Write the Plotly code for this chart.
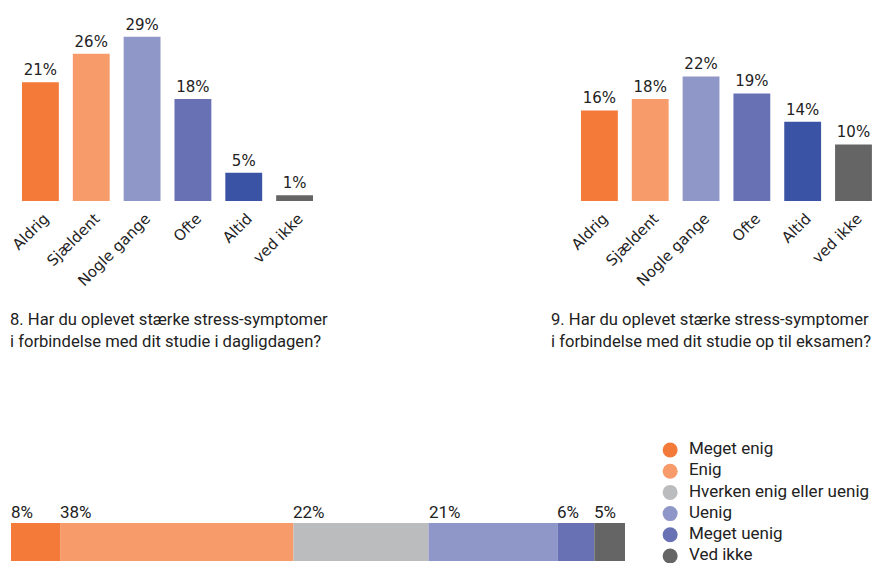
import plotly.graph_objects as go

W, H = 873, 563

categories = ["Aldrig", "Sjældent", "Nogle gange", "Ofte", "Altid", "ved ikke"]
values_q8 = [21, 26, 29, 18, 5, 1]
values_q9 = [16, 18, 22, 19, 14, 10]
bar_colors = ["#F47A3A", "#F89B6B", "#8F96C8", "#6871B4", "#3A53A4", "#656566"]

title_q8 = "8. Har du oplevet stærke stress-symptomer<br>i forbindelse med dit studie i dagligdagen?"
title_q9 = "9. Har du oplevet stærke stress-symptomer<br>i forbindelse med dit studie op til eksamen?"

stack_labels = ["Meget enig", "Enig", "Hverken enig eller uenig", "Uenig", "Meget uenig", "Ved ikke"]
stack_values = [8, 38, 22, 21, 6, 5]
stack_colors = ["#F47A3A", "#F89B6B", "#BBBCBE", "#8F96C8", "#6871B4", "#656566"]

num_font = dict(family="DejaVu Sans", size=15, color="#222222")
cond_font = "Roboto, sans-serif"

fig = go.Figure()

for vals, xa, ya in [(values_q8, "x", "y"), (values_q9, "x2", "y2")]:
    fig.add_trace(go.Bar(
        x=categories, y=vals, marker=dict(color=bar_colors, line=dict(width=0)),
        text=[f"{v}%" for v in vals], textposition="outside", cliponaxis=False,
        textfont=num_font, xaxis=xa, yaxis=ya, showlegend=False, hoverinfo="skip",
    ))

# stacked horizontal bar
for lab, val, col in zip(stack_labels, stack_values, stack_colors):
    fig.add_trace(go.Bar(
        x=[val], y=["q"], orientation="h", marker=dict(color=col, line=dict(width=0)),
        xaxis="x3", yaxis="y3", showlegend=False, hoverinfo="skip", name=lab,
    ))

# legend drawn as a scatter of circles with labels
fig.add_trace(go.Scatter(
    x=[0] * len(stack_labels), y=stack_labels, mode="markers+text",
    text=["  " + s for s in stack_labels], textposition="middle right",
    textfont=dict(family=cond_font, size=17, color="#222222"),
    marker=dict(symbol="circle", size=15, color=stack_colors, line=dict(width=0)),
    xaxis="x4", yaxis="y4", showlegend=False, hoverinfo="skip", cliponaxis=False,
))

base_y = (H - 201) / H
px_per = 5.66
yrange_top = 201 / px_per
bar_frac = 1 - 0.275

annotations = []
cum = 0
for val in stack_values:
    annotations.append(dict(
        x=cum, y=(H - 512) / H, xref="x3", yref="paper", text=f"{val}%",
        showarrow=False, xanchor="left", yanchor="middle", xshift=-2,
        font=dict(family=cond_font, size=17, color="#222222"),
    ))
    cum += val

for txt, x0 in [(title_q8, 10), (title_q9, 551)]:
    annotations.append(dict(
        x=x0 / W, y=(H - 308) / H, xref="paper", yref="paper", text=txt,
        showarrow=False, xanchor="left", yanchor="top", align="left",
        xshift=-2,
        font=dict(family=cond_font, size=16.6, color="#222222"),
    ))

xcommon = dict(showgrid=False, zeroline=False, showline=False, ticks="",
               tickangle=-45, tickfont=dict(family="DejaVu Sans", size=15, color="#222222"),
               ticklabelstandoff=5, ticklabelshift=4,
               fixedrange=True, automargin=False)
ycommon = dict(showgrid=False, zeroline=False, showline=False, showticklabels=False,
               range=[0, yrange_top], fixedrange=True, automargin=False)
hidden = dict(visible=False, automargin=False, fixedrange=True)

fig.update_layout(
    width=W, height=H, margin=dict(l=0, r=0, t=0, b=0, autoexpand=False),
    paper_bgcolor="white", plot_bgcolor="rgba(0,0,0,0)",
    bargap=0.275, showlegend=False,
    xaxis=dict(domain=[15 / W, 320 / W], range=[-0.5, 5.5], **xcommon),
    yaxis=dict(domain=[base_y, 1], **ycommon),
    xaxis2=dict(domain=[574 / W, 1], range=[-0.5, 5.384], anchor="y2", **xcommon),
    yaxis2=dict(domain=[base_y, 1], anchor="x2", **ycommon),
    xaxis3=dict(domain=[11 / W, 625 / W], range=[0, 100], anchor="y3", **hidden),
    yaxis3=dict(domain=[(H - 561) / H, (H - 523) / H],
                range=[-bar_frac / 2, bar_frac / 2], anchor="x3", **hidden),
    xaxis4=dict(domain=[660 / W, 1], range=[-0.05, 1], anchor="y4", **hidden),
    yaxis4=dict(domain=[0, (H - 439.4) / H], range=[5.33, -0.5], anchor="x4",
                type="category", categoryorder="array", categoryarray=stack_labels, **hidden),
    barmode="relative",
    annotations=annotations,
)

fig.write_html(
    "out.html",
    config=dict(displayModeBar=False, staticPlot=True),
    post_script="document.body.style.margin='0';document.body.style.padding='0';document.body.style.overflow='hidden';",
)
